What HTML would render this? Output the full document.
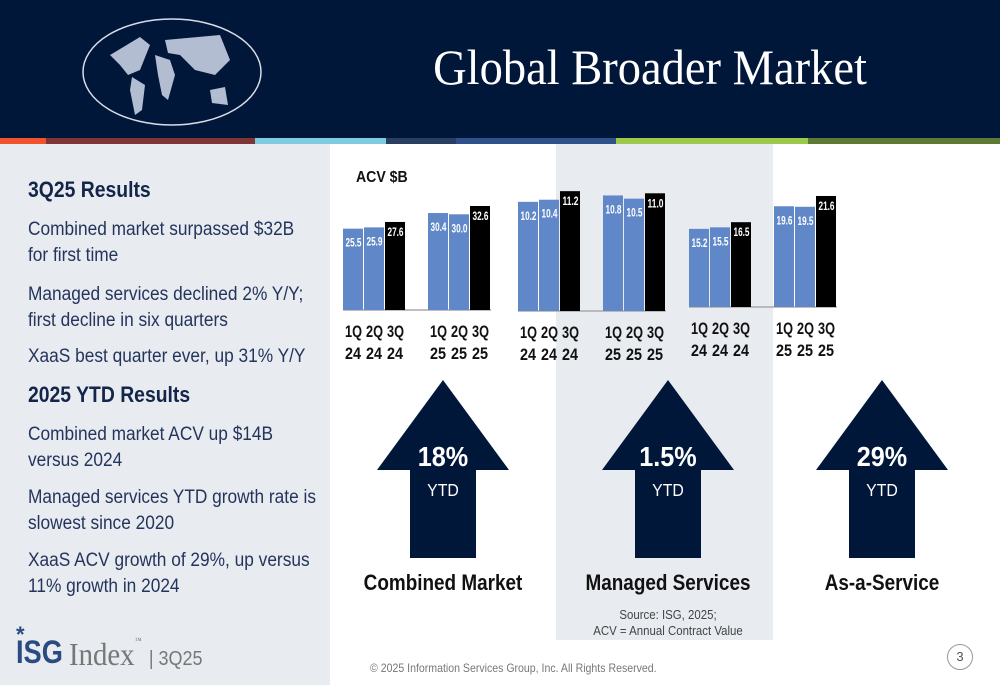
<!DOCTYPE html>
<html><head><meta charset="utf-8"><style>
body{margin:0;width:1000px;height:685px;position:relative;overflow:hidden;background:#fff;font-family:"Liberation Sans",sans-serif;}
.abs{position:absolute;}
.lt{position:absolute;left:28px;color:#24355c;font-size:19px;line-height:26px;transform:scaleX(0.91);transform-origin:left top;white-space:nowrap;}
.lh{position:absolute;left:28px;color:#14254a;font-size:22px;font-weight:bold;transform:scaleX(0.88);transform-origin:left top;white-space:nowrap;}
</style></head><body>
<div class="abs" style="left:0;top:0;width:1000px;height:138px;background:#01173a"></div>
<svg class="abs" style="left:80px;top:15px" width="186" height="114">
<ellipse cx="92" cy="57" rx="89" ry="53" fill="none" stroke="#d8dde8" stroke-width="1.5"/>
<path d="M30 40 L60 22 L70 30 L60 55 L48 60 L40 50Z M52 62 L65 70 L62 95 L55 100 L50 75Z M75 40 L90 45 L95 60 L88 85 L82 80 L78 60Z M85 25 L140 20 L150 45 L135 60 L115 55 L100 40 L88 38Z M130 75 L145 72 L148 90 L132 88Z" fill="#b3bdd2"/>
</svg>
<div class="abs" style="left:400px;top:38px;width:500px;text-align:center;color:#fff;font-family:'Liberation Serif',serif;font-size:50px;transform:scaleX(0.93)">Global Broader Market</div>
<div class="abs" style="left:0;top:138px;width:1000px;height:6px;display:flex">
<div style="width:46px;background:#f0522b"></div><div style="width:209px;background:#7f3535"></div><div style="width:131px;background:#7ecbe1"></div><div style="width:70px;background:#2a3d62"></div><div style="width:160px;background:#2f5189"></div><div style="width:192px;background:#9cc84b"></div><div style="width:192px;background:#5f7a35"></div></div>
<div class="abs" style="left:0;top:144px;width:330px;height:541px;background:#e8ebf0"></div>
<div class="abs" style="left:556px;top:144px;width:217px;height:496px;background:#e8ebf0"></div>

<div class="lh" style="top:177px">3Q25 Results</div>
<div class="lt" style="top:217px">Combined market surpassed $32B<br>for first time</div>
<div class="lt" style="top:282px">Managed services declined 2% Y/Y;<br>first decline in six quarters</div>
<div class="lt" style="top:344px">XaaS best quarter ever, up 31% Y/Y</div>
<div class="lh" style="top:382px">2025 YTD Results</div>
<div class="lt" style="top:422px">Combined market ACV up $14B<br>versus 2024</div>
<div class="lt" style="top:485px">Managed services YTD growth rate is<br>slowest since 2020</div>
<div class="lt" style="top:548px">XaaS ACV growth of 29%, up versus<br>11% growth in 2024</div>

<div class="abs" style="left:16px;top:634px;font-size:32px;font-weight:bold;color:#2a4a82;transform:scaleX(0.85);transform-origin:left top">ISG</div>
<div class="abs" style="left:16px;top:622px;font-size:22px;font-weight:bold;color:#2a4a82">*</div>
<div class="abs" style="left:69px;top:636px;font-size:32px;color:#777;font-family:'Liberation Serif',serif;transform:scaleX(0.9);transform-origin:left top;white-space:nowrap">Index<span style="font-size:8px;vertical-align:top">™</span> <span style="font-family:'Liberation Sans',sans-serif;font-size:20px">| 3Q25</span></div>

<div class="abs" style="left:356px;top:169px;font-size:16px;font-weight:bold;color:#111;transform:scaleX(0.88);transform-origin:left top">ACV $B</div>

<svg id="charts" class="abs" style="left:0;top:0" width="1000" height="685"></svg>

<div class="abs" style="left:560px;top:607px;width:216px;text-align:center;font-size:13px;line-height:16px;color:#444;transform:scaleX(0.88)">Source: ISG, 2025;<br>ACV = Annual Contract Value</div>
<div class="abs" style="left:370px;top:661px;font-size:12px;color:#777;transform:scaleX(0.88);transform-origin:left top;white-space:nowrap">© 2025 Information Services Group, Inc.  All Rights Reserved.</div>
<div class="abs" style="left:947px;top:644px;width:24px;height:24px;border:1px solid #999;border-radius:50%;text-align:center;line-height:24px;font-size:13px;color:#555">3</div>

<script>
const quarters=["1Q\n24","2Q\n24","3Q\n24","1Q\n25","2Q\n25","3Q\n25"];
const combined=[25.5,25.9,27.6,30.4,30.0,32.6];
const managed=[10.2,10.4,11.2,10.8,10.5,11.0];
const xaas=[15.2,15.5,16.5,19.6,19.5,21.6];
const growth=["18%","1.5%","29%"];
const titles=["Combined Market","Managed Services","As-a-Service"];
const svg=document.getElementById('charts');
const NS='http://www.w3.org/2000/svg';
function mk(t,a){const e=document.createElementNS(NS,t);for(const k in a)e.setAttribute(k,a[k]);svg.appendChild(e);return e;}
const panels=[{d:combined,x0:343,base:310,s:3.19,cx:443},{d:managed,x0:518,base:311,s:10.7,cx:668},{d:xaas,x0:689,base:307,s:5.14,cx:882}];
panels.forEach((p,pi)=>{
  const bw=21;
  const xs=i=>p.x0+i*bw+(i>=3?22:0);
  const ln=mk('line',{x1:p.x0,x2:p.x0+6*bw+22,y1:p.base,y2:p.base,stroke:'#aaa','stroke-width':1.5});
  
  
  p.d.forEach((v,i)=>{
    const h=v*p.s;
    const r=mk('rect',{x:xs(i),y:p.base-h,width:bw-1,height:h,fill:(i%3==2)?'#000':'#6088c8'});
    
    
    const t=mk('text',{x:xs(i)+bw/2-8,y:p.base-h+(i%3==2?14:18),fill:'#fff','font-size':12,'font-weight':'bold',textLength:16,lengthAdjust:'spacingAndGlyphs'});
    t.textContent=v.toFixed(1);
    
    
    const parts=quarters[i].split('\n');
    parts.forEach((s,j)=>{
      const q=mk('text',{x:xs(i)+bw/2-8.5,y:p.base+27+j*22,fill:'#111','font-size':17,'font-weight':'bold',textLength:j==0?17:16,lengthAdjust:'spacingAndGlyphs'});
      q.textContent=s;
      
      
    });
  });
  const c=p.cx;
  const a=mk('polygon',{points:`${c},380 ${c+66},470 ${c+33},470 ${c+33},558 ${c-33},558 ${c-33},470 ${c-66},470`,fill:'#01173a'});
  
  
  const g=mk('text',{x:c,y:466,'text-anchor':'middle',fill:'#fff','font-size':28,'font-weight':'bold',transform:`translate(${c*0.1},0) scale(0.9,1)`});
  g.textContent=growth[pi];
  
  
  const y=mk('text',{x:c,y:496,'text-anchor':'middle',fill:'#fff','font-size':18,transform:`translate(${c*0.12},0) scale(0.88,1)`});
  y.textContent='YTD';
  
  
  const tt=mk('text',{x:c,y:590,'text-anchor':'middle',fill:'#111','font-size':22,'font-weight':'bold',transform:`translate(${c*0.14},0) scale(0.86,1)`});
  tt.textContent=titles[pi];
  
  
});
</script>
</body></html>
